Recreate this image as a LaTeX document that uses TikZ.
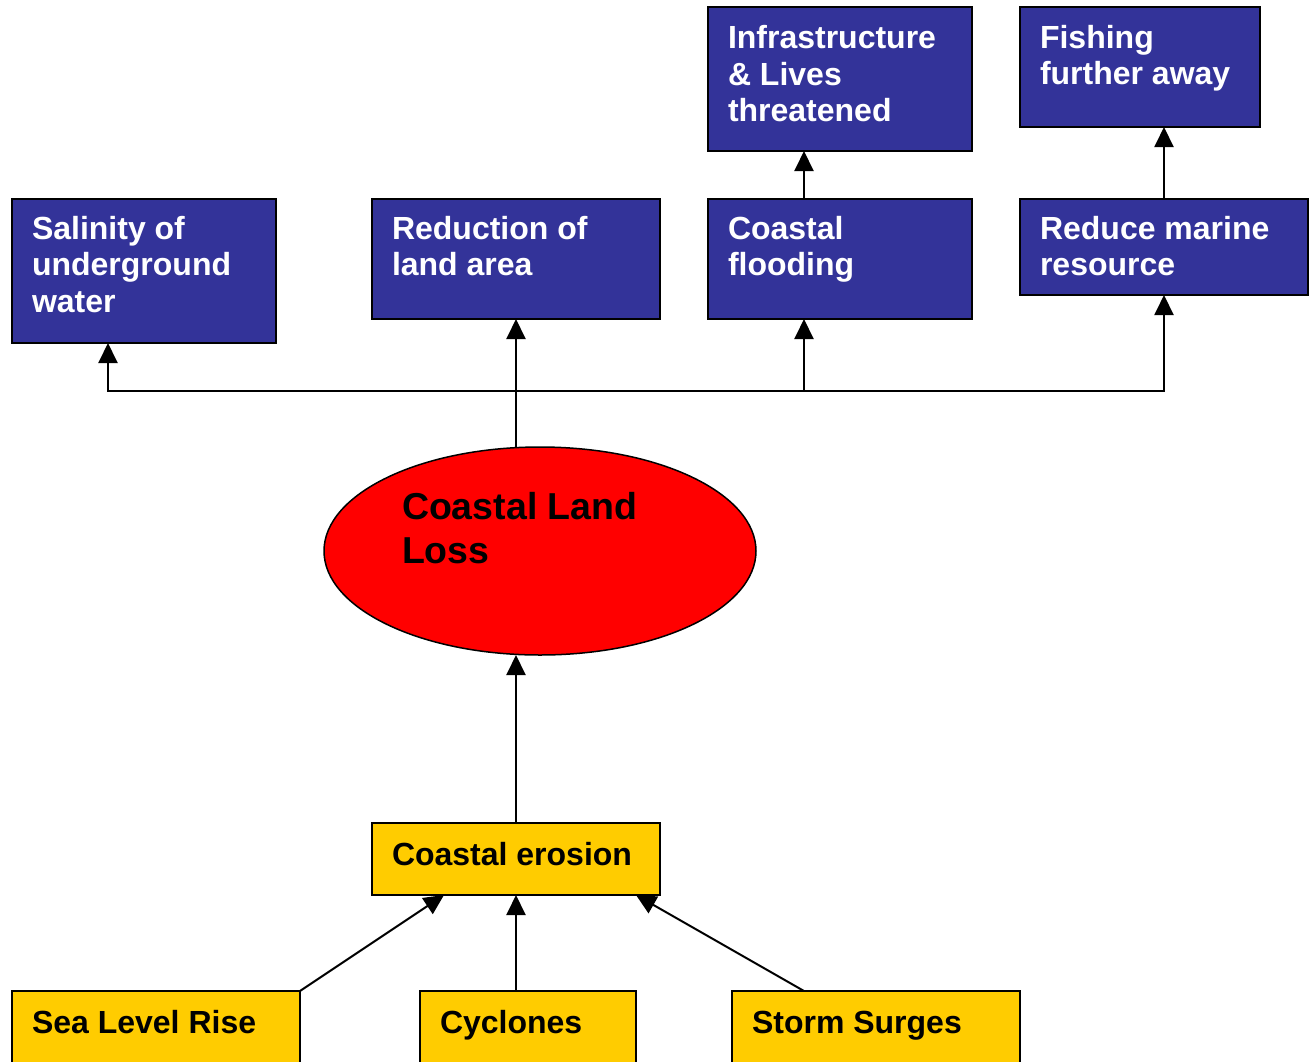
\documentclass[tikz,border=0pt]{standalone}
\usepackage{fontspec}
\setmainfont{Liberation Sans}
\usetikzlibrary{arrows.meta,shapes.geometric,calc}
\definecolor{boxblue}{HTML}{333399}
\definecolor{boxyellow}{HTML}{FFCC00}
\definecolor{lossred}{HTML}{FF0000}
\begin{document}
\begin{tikzpicture}[x=1pt,y=-1pt,
  every node/.style={inner sep=0pt,outer sep=0pt},
  bluebox/.style={rectangle,draw=black,line width=2pt,fill=boxblue,anchor=north west},
  yelbox/.style={rectangle,draw=black,line width=2pt,fill=boxyellow,anchor=north west},
  % text nodes are placed by the baseline of their last line
  wtxt/.style={anchor=base west,align=left,text=white,font=\fontsize{32}{36.5}\selectfont\bfseries},
  ktxt/.style={anchor=base west,align=left,text=black,font=\fontsize{32}{36.5}\selectfont\bfseries},
  link/.style={draw=black,line width=2pt,-{Triangle[width=19pt,length=20pt]}},
  plain/.style={draw=black,line width=2pt}
]
\useasboundingbox (0,0) rectangle (1312,1061);
\clip (0,0) rectangle (1312,1061);

% consequences
\node[bluebox,minimum width=264pt,minimum height=144pt] (sal) at (12,199) {};
\node[wtxt] at (32,312) {Salinity of\\underground\\water};
\node[bluebox,minimum width=288pt,minimum height=120pt] (red) at (372,199) {};
\node[wtxt] at (392,275.5) {Reduction of\\land area};
\node[bluebox,minimum width=264pt,minimum height=120pt] (flood) at (708,199) {};
\node[wtxt] at (728,275.5) {Coastal\\flooding};
\node[bluebox,minimum width=288pt,minimum height=96pt] (marine) at (1020,199) {};
\node[wtxt] at (1040,275.5) {Reduce marine\\resource};
\node[bluebox,minimum width=264pt,minimum height=144pt] (infra) at (708,7) {};
\node[wtxt] at (728,121.5) {Infrastructure\\\& Lives\\threatened};
\node[bluebox,minimum width=240pt,minimum height=120pt] (fish) at (1020,7) {};
\node[wtxt] at (1040,84.5) {Fishing\\further away};

% central effect
\node[ellipse,draw=black,line width=1.5pt,fill=lossred,minimum width=432pt,minimum height=208pt] (loss) at (540,551) {};
\node[anchor=base west,align=left,font=\fontsize{37.5}{44}\selectfont\bfseries] at (402,563) {Coastal Land\\Loss};

% causes
\node[yelbox,minimum width=288pt,minimum height=72pt] (ero) at (372,823) {};
\node[ktxt] at (392,865) {Coastal erosion};
\node[yelbox,minimum width=288pt,minimum height=100pt] (slr) at (12,991) {};
\node[ktxt] at (32,1033) {Sea Level Rise};
\node[yelbox,minimum width=216pt,minimum height=100pt] (cyc) at (420,991) {};
\node[ktxt] at (440,1033) {Cyclones};
\node[yelbox,minimum width=288pt,minimum height=100pt] (storm) at (732,991) {};
\node[ktxt] at (752,1033) {Storm Surges};

% connectors
\coordinate (bus) at (516,391);
\draw[plain] (loss.north -| red.south) -- (bus);
\draw[link] (bus) -| ([xshift=96pt]sal.south west);
\draw[link] (bus) -- (red.south);
\draw[link] (bus) -| ([xshift=96pt]flood.south west);
\draw[link] (bus) -| (marine.south);
\draw[link] ([xshift=96pt]flood.north west) -- ([xshift=96pt]infra.south west);
\draw[link] (marine.north) -- (marine.north |- fish.south);
\draw[link] (ero.north) -- (loss.south -| ero.north);
\draw[link] (slr.north east) -- ([xshift=72pt]ero.south west);
\draw[link] ([xshift=96pt]cyc.north west) -- (ero.south);
\draw[link] ([xshift=72pt]storm.north west) -- ([xshift=-24pt]ero.south east);
\end{tikzpicture}
\end{document}
